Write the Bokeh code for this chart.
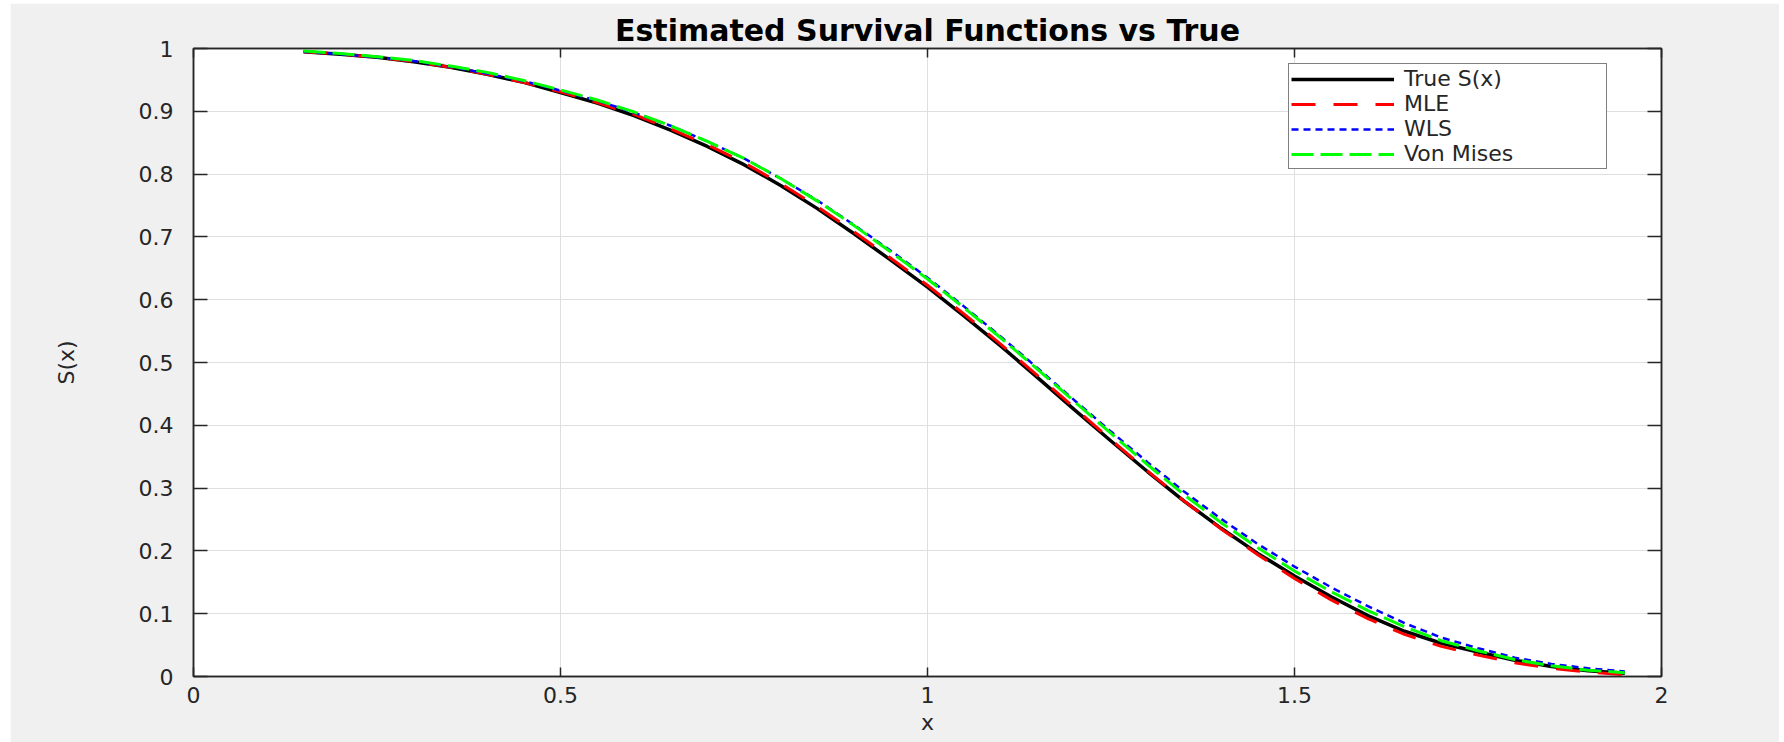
from bokeh.plotting import figure
from bokeh.models import Legend, LegendItem, LinearAxis, FixedTicker, Range1d
from bokeh.embed import file_html
from bokeh.resources import INLINE

# Evaluation grid and survival curves
x = [0.15, 0.20, 0.25, 0.30, 0.35, 0.40, 0.45, 0.50, 0.55, 0.60, 0.65, 0.70,
     0.75, 0.80, 0.85, 0.90, 0.95, 1.00, 1.05, 1.10, 1.15, 1.20, 1.25, 1.30,
     1.35, 1.40, 1.45, 1.50, 1.55, 1.60, 1.65, 1.70, 1.75, 1.80, 1.85, 1.90, 1.95]

true_s = [0.995, 0.991, 0.986, 0.979, 0.970, 0.959, 0.946, 0.930, 0.913, 0.893,
          0.870, 0.844, 0.815, 0.782, 0.745, 0.705, 0.663, 0.620, 0.574, 0.526,
          0.476, 0.425, 0.375, 0.326, 0.279, 0.236, 0.196, 0.160, 0.127, 0.097,
          0.072, 0.053, 0.039, 0.026, 0.016, 0.009, 0.005]

mle_s = [0.995, 0.991, 0.986, 0.979, 0.970, 0.959, 0.946, 0.931, 0.914, 0.895,
         0.872, 0.847, 0.818, 0.785, 0.748, 0.708, 0.666, 0.623, 0.577, 0.529,
         0.479, 0.428, 0.377, 0.327, 0.279, 0.235, 0.194, 0.156, 0.122, 0.092,
         0.067, 0.048, 0.034, 0.022, 0.013, 0.007, 0.003]

wls_s = [0.995, 0.991, 0.986, 0.980, 0.971, 0.960, 0.948, 0.933, 0.917, 0.898,
         0.877, 0.852, 0.825, 0.793, 0.758, 0.719, 0.678, 0.635, 0.589, 0.541,
         0.491, 0.440, 0.390, 0.341, 0.294, 0.251, 0.211, 0.175, 0.142, 0.112,
         0.085, 0.062, 0.045, 0.030, 0.020, 0.013, 0.008]

vm_s = [0.996, 0.992, 0.987, 0.981, 0.972, 0.962, 0.949, 0.934, 0.918, 0.899,
        0.877, 0.852, 0.825, 0.793, 0.757, 0.718, 0.676, 0.633, 0.587, 0.539,
        0.489, 0.438, 0.387, 0.337, 0.289, 0.245, 0.205, 0.168, 0.135, 0.105,
        0.079, 0.057, 0.041, 0.027, 0.017, 0.010, 0.006]

series_labels = ["True S(x)", "MLE", "WLS", "Von Mises"]

x_ticks = [0, 0.5, 1, 1.5, 2]
x_tick_labels = ["0", "0.5", "1", "1.5", "2"]
y_ticks = [0, 0.1, 0.2, 0.3, 0.4, 0.5, 0.6, 0.7, 0.8, 0.9, 1]
y_tick_labels = ["0", "0.1", "0.2", "0.3", "0.4", "0.5", "0.6", "0.7", "0.8", "0.9", "1"]

FONT = "DejaVu Sans"
AX = "#262626"

p = figure(
    width=1769, height=739, margin=(3, 5, 0, 10),
    x_range=Range1d(0, 2), y_range=Range1d(0, 1),
    output_backend="svg", toolbar_location=None,
    min_border_left=183, min_border_right=118,
    min_border_top=45, min_border_bottom=66,
    background_fill_color="white", border_fill_color="#f0f0f0",
    outline_line_color=AX, outline_line_width=1.5,
    x_axis_label="x", y_axis_label="S(x)",
)

p.title.text = "Estimated Survival Functions vs True"
p.title.align = "center"
p.title.text_font = FONT
p.title.text_font_size = "30px"
p.title.text_font_style = "bold"
p.title.text_color = "black"
p.title.standoff = 2

# box axes on top and right, ticks only
p.add_layout(LinearAxis(), "above")
p.add_layout(LinearAxis(), "right")

for ax in p.xaxis:
    ax.ticker = FixedTicker(ticks=x_ticks)
    ax.major_tick_in = 9
for ax in p.yaxis:
    ax.ticker = FixedTicker(ticks=y_ticks)
    ax.major_tick_in = 14

for ax in p.axis:
    ax.major_tick_out = 0
    ax.minor_tick_line_color = None
    ax.axis_line_color = AX
    ax.axis_line_width = 1.5
    ax.major_tick_line_color = AX
    ax.major_tick_line_width = 1.5
    ax.major_label_text_font = FONT
    ax.major_label_text_font_size = "22px"
    ax.major_label_text_color = AX
    ax.axis_label_text_font = FONT
    ax.axis_label_text_font_style = "normal"
    ax.axis_label_text_color = AX

bottom, left = p.below[0], p.left[0]
top, right = p.above[-1], p.right[0]
bottom.major_label_overrides = dict(zip(x_ticks, x_tick_labels))
left.major_label_overrides = dict(zip(y_ticks, y_tick_labels))
bottom.major_label_standoff = 10
bottom.axis_label_standoff = 4
bottom.axis_label_text_font_size = "22px"
left.major_label_standoff = 20
left.axis_label_standoff = 57
left.axis_label_text_font_size = "22px"
for ax, ticks in ((top, x_ticks), (right, y_ticks)):
    ax.major_label_overrides = {t: "" for t in ticks}
    ax.major_label_standoff = 0
    ax.major_label_text_font_size = "0px"

p.xgrid.grid_line_color = "#dfdfdf"
p.ygrid.grid_line_color = "#dfdfdf"
p.xgrid.grid_line_width = 1
p.ygrid.grid_line_width = 1

r_true = p.line(x, true_s, line_color="black", line_width=3.5)
r_mle = p.line(x, mle_s, line_color="red", line_width=3, line_dash="24 18")
r_wls = p.line(x, wls_s, line_color="blue", line_width=2.5, line_dash="7 5")
r_vm = p.line(x, vm_s, line_color="#00ff00", line_width=3, line_dash="22 7")

legend = Legend(
    items=[LegendItem(label=lab, renderers=[r])
           for lab, r in zip(series_labels, [r_true, r_mle, r_wls, r_vm])],
    location=(1095, 507),
    glyph_width=103, glyph_height=24, label_height=24, label_width=200,
    label_standoff=10, spacing=0, padding=2, margin=0,
    label_text_font=FONT, label_text_font_size="22px", label_text_color=AX,
    border_line_color="black", border_line_width=1,
    background_fill_color="white", background_fill_alpha=1,
)
p.add_layout(legend)

open("out.html", "w").write(file_html(p, INLINE))
